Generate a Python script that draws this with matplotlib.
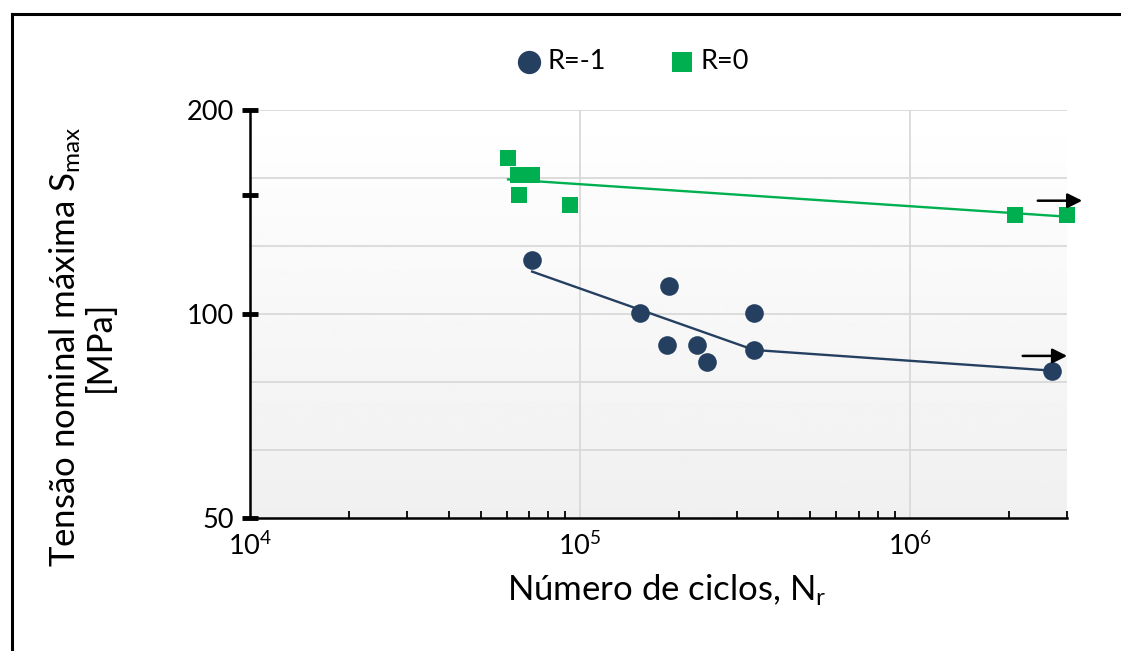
import numpy as np
import matplotlib
matplotlib.use("Agg")
import matplotlib.pyplot as plt
from matplotlib.lines import Line2D
from matplotlib.transforms import offset_copy

plt.rcParams['font.family'] = ['Lato', 'DejaVu Sans']
plt.rcParams['mathtext.default'] = 'regular'

# ensaios R=-1 (ciclos, tensao maxima MPa)
n_rm1 = [71700, 186600, 151800, 337500, 183400, 226500, 243000, 337500, 2.70e6]
s_rm1 = [120.0, 110.0, 100.2, 100.2, 90.0, 90.0, 85.0, 88.5, 82.5]

# ensaios R=0
n_r0 = [60600, 65000, 71500, 65300, 93400, 2.09e6, 3.0e6]
s_r0 = [170.0, 160.5, 160.5, 150.0, 145.0, 140.2, 139.8]

# curvas ajustadas
fit_rm1_n = [71700, 337500, 2.70e6]
fit_rm1_s = [115.5, 88.5, 82.5]
fit_r0_n = [60600, 3.0e6]
fit_r0_s = [158.0, 139.2]

# ensaios interrompidos (run-out)
runout_n = [3.0e6, 2.70e6]
runout_s = [139.8, 82.5]

y_grid = [63.0, 79.4, 100, 126.0, 158.7, 200]
x_grid = [1e5, 1e6]

navy = '#253f61'
green = '#00b050'

fig = plt.figure(figsize=(11.21, 6.51), dpi=100)
ax = fig.add_axes([0.2230, 0.2043, 0.7288, 0.6267])

# fundo em degrade
grad = np.linspace(0.94, 1.0, 256).reshape(-1, 1)
ax.imshow(grad, extent=[0, 1, 0, 1], transform=ax.transAxes, cmap='gray',
          vmin=0, vmax=1, aspect='auto', origin='lower', zorder=0)

ax.set_xscale('log')
ax.set_yscale('log')
ax.set_xlim(1e4, 3e6)
ax.set_ylim(50, 200)

for g in y_grid:
    ax.axhline(g, color='#d9d9d9', lw=1.3, zorder=1)
for g in x_grid:
    ax.axvline(g, color='#d9d9d9', lw=1.3, zorder=1)

ax.plot(fit_r0_n, fit_r0_s, color=green, lw=1.7, zorder=2)
ax.plot(fit_rm1_n, fit_rm1_s, color=navy, lw=1.7, zorder=2)
ax.scatter(n_rm1, s_rm1, s=180, marker='o', color=navy, zorder=3,
           clip_on=False, label='R=-1', linewidths=0)
ax.scatter(n_r0, s_r0, s=135, marker='s', color=green, zorder=3,
           clip_on=False, label='R=0', linewidths=0)

for n, s in zip(runout_n, runout_s):
    start = offset_copy(ax.transData, fig=fig, x=-21, y=10.6, units='points')
    end = offset_copy(ax.transData, fig=fig, x=11, y=10.6, units='points')
    ax.annotate('', xy=(n, s), xycoords=end, xytext=(n, s), textcoords=start,
                arrowprops=dict(arrowstyle='-|>', color='black', lw=1.8,
                                mutation_scale=22, shrinkA=0, shrinkB=0),
                annotation_clip=False, zorder=4)

for side in ['top', 'right']:
    ax.spines[side].set_visible(False)
for side in ['left', 'bottom']:
    ax.spines[side].set_linewidth(1.8)
    ax.spines[side].set_color('black')

ax.set_yticks([50, 100, 150, 200])
ax.set_yticklabels(['50', '100', '', '200'])
ax.yaxis.set_minor_locator(matplotlib.ticker.NullLocator())
ax.tick_params(axis='y', which='major', direction='inout', length=11, width=3.5,
               labelsize=19.5, pad=6)

ax.set_xticks([1e4, 1e5, 1e6])
ax.set_xticklabels(['$10^{4}$', '$10^{5}$', '$10^{6}$'])
ax.tick_params(axis='x', which='major', length=0, labelsize=19.5, pad=10)
ax.tick_params(axis='x', which='minor', direction='in', length=5, width=1.3)
ax.xaxis.set_minor_formatter(matplotlib.ticker.NullFormatter())

ax.set_xlabel('Número de ciclos, N$_{r}$', fontsize=25)
ax.xaxis.set_label_coords(0.51, -0.135)
ax.set_ylabel('Tensão nominal máxima S$_{max}$\n[MPa]', fontsize=25,
              linespacing=1.05)
ax.yaxis.set_label_coords(-0.164, 0.42)

fig.legend(loc='center', bbox_to_anchor=(0.564, 0.906), ncol=2, frameon=False,
           fontsize=19.5, handlelength=1.0, handletextpad=0.2,
           columnspacing=2.3, markerscale=1.25)

# moldura
fig.add_artist(Line2D([0.0105, 1.0], [0.9785, 0.9785], color='black', lw=2.2,
                      transform=fig.transFigure))
fig.add_artist(Line2D([0.0105, 0.0105], [0.0, 0.9785], color='black', lw=2.2,
                      transform=fig.transFigure))

fig.savefig('out.png', dpi=100)
